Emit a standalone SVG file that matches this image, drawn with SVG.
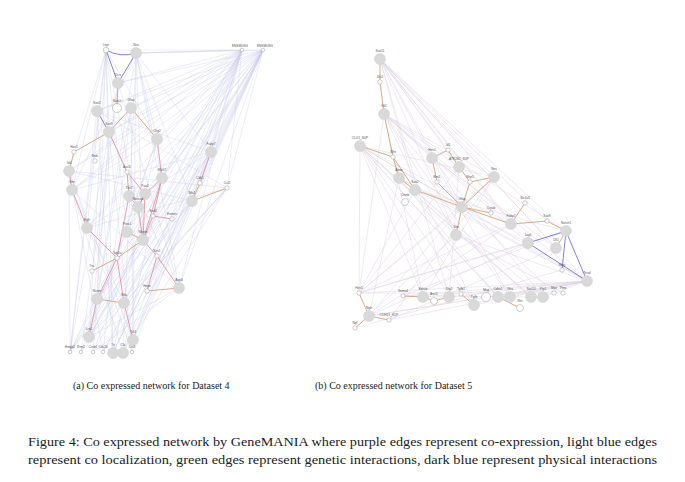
<svg xmlns="http://www.w3.org/2000/svg" width="685" height="482" viewBox="0 0 685 482">
<style>
.f{fill:none;stroke:#c9c9e8;stroke-width:0.6;opacity:0.6}
.fr{fill:none;stroke:#ddd3e2;stroke-width:0.6;opacity:0.8}
.r{fill:none;stroke:#d98c9e;stroke-width:0.8}
.o{fill:none;stroke:#d2a27f;stroke-width:0.9}
.b{fill:none;stroke:#7373d6;stroke-width:0.9}
.g{fill:#d9d9d9;stroke:#cfcfcf;stroke-width:0.5}
.w{fill:#fff;stroke:#9a9a9a;stroke-width:0.5}
.l{font-family:"Liberation Sans",Arial,sans-serif;font-size:3.2px;fill:#555;text-anchor:middle}
.c{font-family:"Liberation Serif","Times New Roman",serif;font-size:10px;fill:#222}
.cap{font-family:"Liberation Serif","Times New Roman",serif;font-size:12px;fill:#222}
</style>
<rect width="685" height="482" fill="#fff"/>
<g id="connectors">
<path class="f" d="M242 50L118 83M242 50L97 111M242 50L131 108M242 50L109 132M242 50L157 139M242 50L211 152M242 50L69 171M242 50L162 178M242 50L72 190M242 50L145 194M242 50L192 201M242 50L87 228M242 50L127 232M242 50L143 240M242 50L179 288M242 50L97 299M242 50L124 303M242 50L89 337M242 50L133 340M242 50L113 353M242 50L123 353M242 50L136 53M242 50L200 183M242 50L227 188"/>
<path class="f" d="M263 50L118 83M263 50L97 111M263 50L131 108M263 50L109 132M263 50L157 139M263 50L211 152M263 50L69 171M263 50L162 178M263 50L72 190M263 50L129 196M263 50L192 201M263 50L87 228M263 50L138 207M263 50L143 240M263 50L179 288M263 50L97 299M263 50L124 303M263 50L89 337M263 50L133 340M263 50L113 353M263 50L123 353M263 50L136 53M263 50L227 188M263 50L147 291M263 50L70 352M263 50L103 352"/>
<path class="f" d="M106 50L109 132M106 50L69 171M106 50L72 190M106 50L87 228M106 50L97 299M106 50L89 337M106 50L70 352M106 50L113 353M106 50L157 139M106 50L127 232M106 50L143 240M106 50L242 50M136 53L157 139M136 53L162 178M136 53L192 201M136 53L143 240M136 53L179 288M136 53L133 340M136 53L123 353M136 53L211 152M136 53L263 50M136 53L97 299M136 53L72 190"/>
<path class="f" d="M70 352L109 132M70 352L97 111M70 352L69 171M70 352L162 178M70 352L145 194M70 352L211 152M70 352L192 201M81 352L118 83M81 352L157 139M81 352L143 240M81 352L227 188M93 352L109 132M93 352L162 178M93 352L211 152M93 352L179 288M103 352L131 108M103 352L192 201M103 352L69 171M103 352L227 188M113 353L97 111M113 353L157 139M113 353L211 152M123 353L72 190M123 353L162 178M123 353L227 188M132 352L109 132M132 352L192 201M132 352L69 171M69 171L227 188M72 190L211 152M69 171L192 201M72 190L179 288M87 228L211 152M97 111L211 152M97 111L227 188M118 83L179 288M118 83L89 337M131 108L97 299M131 108L133 340M157 139L89 337M157 139L72 190M109 132L179 288M87 228L227 188M97 299L192 201M89 337L179 288M69 171L133 340M72 190L124 303M211 152L133 340M211 152L97 299M227 188L89 337M227 188L124 303M192 201L89 337"/>
<path class="b" d="M106 50Q121 58 136 53M106 50L118 83M136 53L118 83M97 111L109 132"/>
<path class="o" d="M118 83L117 108M131 108L109 132M131 108L157 139M109 132L74 152M74 152L69 171M200 183L192 201M227 188L192 201M143 240L127 232M143 240L117 258M117 258L92 271M147 291L179 288M97 299L124 303M138 207L145 194"/>
<path class="r" d="M109 132L127 172M157 139L162 178M211 152L200 183M127 172L129 196M127 172L145 194M145 194L138 207M129 196L138 207M162 178L153 216M153 216L172 219M138 207L143 240M145 194L143 240M162 178L143 240M87 228L117 258M117 258L97 299M117 258L124 303M143 240L157 256M157 256L179 288M157 256L147 291M124 303L133 340M97 299L89 337M69 171L72 190M72 190L87 228M117 258L129 196M153 216L143 240M162 178L145 194"/>
<path class="fr" d="M380 59L448 150M380 59L459 167M380 59L494 177M380 59L462 207M380 59L511 224M380 59L566 231M380 59L528 243M380 59L556 248M380 59L587 281M380 59L456 235M380 59L432 158M380 59L415 190M380 59L547 221M384 114L494 177M384 114L462 207M384 114L511 224M384 114L566 231M384 114L528 243M384 114L587 281M384 114L459 167M384 114L456 235M360 146L423 297M360 146L449 297M360 146L498 297M360 146L531 297M360 146L462 207M360 146L456 235M360 146L587 281M360 146L359 293"/>
<path class="fr" d="M587 281L359 293M587 281L403 296M587 281L423 297M587 281L449 297M587 281L474 305M587 281L498 297M587 281L531 297M587 281L543 297M587 281L369 316M587 281L456 235M587 281L415 190M587 281L399 178M587 281L389 320M359 293L415 190M359 293L462 207M359 293L511 224M359 293L566 231M359 293L528 243M359 293L494 177M359 293L459 167M359 293L384 114M498 297L399 178M531 297L415 190M543 297L432 158M449 297L459 167M423 297L494 177M474 305L360 146M510 297L384 114M369 316L511 224M369 316L528 243M403 296L566 231M369 316L462 207M369 316L399 178M389 320L556 248M389 320L494 177M423 297L384 114M449 297L380 59M531 297L360 146M543 297L399 178M563 293L456 235M554 293L462 207M510 297L432 158M498 297L360 146M474 305L384 114M355 328L456 235M355 328L562 270M369 316L587 281M403 296L543 297M359 293L563 293M415 190L566 231M399 178L528 243M432 158L556 248M360 146L494 177M360 146L511 224M384 114L432 158"/>
<path class="o" d="M380 59L380 82M380 82L384 114M384 114L393 157M360 146L393 157M393 157L399 178M393 157L415 190M399 178L415 190M415 190L462 207M432 158L448 150M448 150L459 167M432 158L437 182M437 182L462 207M459 167L470 182M470 182L494 177M470 182L462 207M494 177L462 207M462 207L491 213M462 207L511 224M462 207L456 235M511 224L525 203M511 224L547 221M547 221L566 231M566 231L556 248M359 293L369 316M369 316L355 328M369 316L389 320M403 296L423 297M423 297L434 301M434 301L449 297M461 294L474 305M498 297L520 308"/>
<path class="b" d="M528 243L566 231M528 243L587 281M566 231L562 270M568 236L587 281"/>
</g>
<g id="a1"><circle class="w" cx="106" cy="50" r="2.8"/><text class="l" x="106" y="46">Lepr</text></g>
<g id="a2"><circle class="g" cx="136" cy="53" r="5.5"/><text class="l" x="136" y="46">Nes</text></g>
<g id="a3"><circle class="w" cx="242" cy="50" r="1.8"/><text class="l" x="240" y="47">ENSMUSG</text></g>
<g id="a4"><circle class="w" cx="263" cy="50" r="1.8"/><text class="l" x="265" y="47">ENSMUSG</text></g>
<g id="a5"><circle class="g" cx="118" cy="83" r="5.5"/><text class="l" x="118" y="76">Dcx</text></g>
<g id="a6"><circle class="g" cx="97" cy="111" r="5.5"/><text class="l" x="97" y="104">Sox2</text></g>
<g id="a7"><circle class="w" cx="117" cy="108" r="4.5"/><text class="l" x="117" y="102">Notch</text></g>
<g id="a8"><circle class="g" cx="131" cy="108" r="5.5"/><text class="l" x="131" y="101">Gfap</text></g>
<g id="a9"><circle class="g" cx="109" cy="132" r="5.5"/><text class="l" x="109" y="125">Sox9</text></g>
<g id="a10"><circle class="g" cx="157" cy="139" r="5.5"/><text class="l" x="157" y="132">Olig2</text></g>
<g id="a11"><circle class="w" cx="74" cy="152" r="2.2"/><text class="l" x="74" y="148">Hes5</text></g>
<g id="a12"><circle class="g" cx="211" cy="152" r="5.5"/><text class="l" x="211" y="145">Fabp7</text></g>
<g id="a13"><circle class="g" cx="69" cy="171" r="5.5"/><text class="l" x="69" y="164">Id4</text></g>
<g id="a14"><circle class="w" cx="95" cy="161" r="2.2"/><text class="l" x="95" y="157">Nrdc</text></g>
<g id="a15"><circle class="w" cx="127" cy="172" r="2.2"/><text class="l" x="127" y="168">Ascl1</text></g>
<g id="a16"><circle class="g" cx="162" cy="178" r="5.5"/><text class="l" x="162" y="171">Mki67</text></g>
<g id="a17"><circle class="w" cx="200" cy="183" r="2.2"/><text class="l" x="200" y="179">Cdk1</text></g>
<g id="a18"><circle class="w" cx="227" cy="188" r="2.2"/><text class="l" x="227" y="184">Ccl2</text></g>
<g id="a19"><circle class="g" cx="72" cy="190" r="5.5"/><text class="l" x="72" y="183">Vim</text></g>
<g id="a20"><circle class="g" cx="129" cy="196" r="5.5"/><text class="l" x="129" y="189">Tbr2</text></g>
<g id="a21"><circle class="g" cx="145" cy="194" r="5.5"/><text class="l" x="145" y="187">Pax6</text></g>
<g id="a22"><circle class="g" cx="192" cy="201" r="5.5"/><text class="l" x="192" y="194">Msi1</text></g>
<g id="a23"><circle class="g" cx="138" cy="207" r="5.5"/><text class="l" x="138" y="200">Neurod</text></g>
<g id="a24"><circle class="w" cx="153" cy="216" r="2.2"/><text class="l" x="153" y="212">Sox4</text></g>
<g id="a25"><circle class="w" cx="172" cy="219" r="2.2"/><text class="l" x="172" y="215">Eomes</text></g>
<g id="a26"><circle class="g" cx="87" cy="228" r="5.5"/><text class="l" x="87" y="221">Egfr</text></g>
<g id="a27"><circle class="g" cx="127" cy="232" r="5.5"/><text class="l" x="127" y="225">Prox1</text></g>
<g id="a28"><circle class="g" cx="143" cy="240" r="5.5"/><text class="l" x="143" y="233">Nestin</text></g>
<g id="a29"><circle class="w" cx="117" cy="258" r="2.2"/><text class="l" x="117" y="254">Top2a</text></g>
<g id="a30"><circle class="w" cx="157" cy="256" r="2.2"/><text class="l" x="157" y="252">Sox1</text></g>
<g id="a31"><circle class="w" cx="92" cy="271" r="2.2"/><text class="l" x="92" y="267">Tnc</text></g>
<g id="a32"><circle class="g" cx="179" cy="288" r="5.5"/><text class="l" x="179" y="281">Aqp4</text></g>
<g id="a33"><circle class="w" cx="147" cy="291" r="2.2"/><text class="l" x="147" y="287">Hopx</text></g>
<g id="a34"><circle class="g" cx="97" cy="299" r="5.5"/><text class="l" x="97" y="292">Ncam</text></g>
<g id="a35"><circle class="g" cx="124" cy="303" r="5.5"/><text class="l" x="124" y="296">Nfia</text></g>
<g id="a36"><circle class="g" cx="89" cy="337" r="5.5"/><text class="l" x="89" y="330">Lrp1</text></g>
<g id="a37"><circle class="g" cx="133" cy="340" r="5.5"/><text class="l" x="133" y="333">Tcf4</text></g>
<g id="a38"><circle class="w" cx="70" cy="352" r="1.8"/><text class="l" x="70" y="348">Hmgb2</text></g>
<g id="a39"><circle class="w" cx="81" cy="352" r="1.8"/><text class="l" x="81" y="348">Rrm2</text></g>
<g id="a40"><circle class="w" cx="93" cy="352" r="1.8"/><text class="l" x="93" y="348">Ccnb1</text></g>
<g id="a41"><circle class="w" cx="103" cy="352" r="1.8"/><text class="l" x="103" y="348">Cdc20</text></g>
<g id="a42"><circle class="g" cx="113" cy="353" r="5.5"/><text class="l" x="113" y="346">Ttr</text></g>
<g id="a43"><circle class="g" cx="123" cy="353" r="5.5"/><text class="l" x="123" y="346">Clu</text></g>
<g id="a44"><circle class="w" cx="132" cy="352" r="1.8"/><text class="l" x="132" y="348">Cst3</text></g>
<g id="b1"><circle class="g" cx="380" cy="59" r="5.5"/><text class="l" x="380" y="52">Sox11</text></g>
<g id="b2"><circle class="w" cx="380" cy="82" r="2.2"/><text class="l" x="380" y="78">Dlx2</text></g>
<g id="b3"><circle class="g" cx="384" cy="114" r="5.5"/><text class="l" x="384" y="107">Gli1</text></g>
<g id="b4"><circle class="g" cx="360" cy="146" r="5.5"/><text class="l" x="360" y="139">CLU1_SUP</text></g>
<g id="b5"><circle class="w" cx="393" cy="157" r="2.2"/><text class="l" x="393" y="153">Wnt</text></g>
<g id="b6"><circle class="g" cx="399" cy="178" r="5.5"/><text class="l" x="399" y="171">Apoe</text></g>
<g id="b7"><circle class="g" cx="415" cy="190" r="5.5"/><text class="l" x="415" y="183">Sox2</text></g>
<g id="b8"><circle class="w" cx="405" cy="202" r="3.5"/><text class="l" x="405" y="196">Ctnnb</text></g>
<g id="b9"><circle class="g" cx="432" cy="158" r="5.5"/><text class="l" x="432" y="151">Hes1</text></g>
<g id="b10"><circle class="w" cx="448" cy="150" r="2.2"/><text class="l" x="448" y="146">Id1</text></g>
<g id="b11"><circle class="g" cx="459" cy="167" r="5.5"/><text class="l" x="459" y="160">ATP2B2_SUP</text></g>
<g id="b12"><circle class="w" cx="437" cy="182" r="2.2"/><text class="l" x="437" y="178">Bmi1</text></g>
<g id="b13"><circle class="w" cx="470" cy="182" r="2.2"/><text class="l" x="470" y="178">Sfrp1</text></g>
<g id="b14"><circle class="g" cx="494" cy="177" r="5.5"/><text class="l" x="494" y="170">Nes</text></g>
<g id="b15"><circle class="g" cx="462" cy="207" r="5.5"/><text class="l" x="462" y="200">Gfap</text></g>
<g id="b16"><circle class="w" cx="491" cy="213" r="2.2"/><text class="l" x="491" y="209">Cryab</text></g>
<g id="b17"><circle class="w" cx="525" cy="203" r="2.2"/><text class="l" x="525" y="199">Slc1a3</text></g>
<g id="b18"><circle class="g" cx="511" cy="224" r="5.5"/><text class="l" x="511" y="217">Fabp7</text></g>
<g id="b19"><circle class="w" cx="547" cy="221" r="2.2"/><text class="l" x="547" y="217">Sox9</text></g>
<g id="b20"><circle class="g" cx="566" cy="231" r="5.5"/><text class="l" x="566" y="224">Notch1</text></g>
<g id="b21"><circle class="g" cx="456" cy="235" r="5.5"/><text class="l" x="456" y="228">Vim</text></g>
<g id="b22"><circle class="g" cx="528" cy="243" r="5.5"/><text class="l" x="528" y="236">Jag1</text></g>
<g id="b23"><circle class="g" cx="556" cy="248" r="5.5"/><text class="l" x="556" y="241">Dll1</text></g>
<g id="b24"><circle class="w" cx="562" cy="270" r="2.2"/><text class="l" x="562" y="266">Rbpj</text></g>
<g id="b25"><circle class="g" cx="587" cy="281" r="5.5"/><text class="l" x="587" y="274">Tead</text></g>
<g id="b26"><circle class="w" cx="359" cy="293" r="2.2"/><text class="l" x="359" y="289">Hes5</text></g>
<g id="b27"><circle class="w" cx="403" cy="296" r="2.2"/><text class="l" x="403" y="292">Sema4</text></g>
<g id="b28"><circle class="g" cx="423" cy="297" r="5.5"/><text class="l" x="423" y="290">Ednrb</text></g>
<g id="b29"><circle class="w" cx="434" cy="301" r="3.5"/><text class="l" x="434" y="295">Ascl1</text></g>
<g id="b30"><circle class="g" cx="449" cy="297" r="5.5"/><text class="l" x="449" y="290">Dlg2</text></g>
<g id="b31"><circle class="w" cx="461" cy="294" r="2.2"/><text class="l" x="461" y="290">Tgfb1</text></g>
<g id="b32"><circle class="g" cx="474" cy="305" r="5.5"/><text class="l" x="474" y="298">Tgfb</text></g>
<g id="b33"><circle class="w" cx="486" cy="297" r="4.5"/><text class="l" x="486" y="291">Mag</text></g>
<g id="b34"><circle class="g" cx="498" cy="297" r="5.5"/><text class="l" x="498" y="290">Cdkn1</text></g>
<g id="b35"><circle class="g" cx="510" cy="297" r="5.5"/><text class="l" x="510" y="290">Gfra</text></g>
<g id="b36"><circle class="w" cx="520" cy="308" r="3.5"/><text class="l" x="520" y="302">Ret</text></g>
<g id="b37"><circle class="g" cx="531" cy="297" r="5.5"/><text class="l" x="531" y="290">Sox10</text></g>
<g id="b38"><circle class="g" cx="543" cy="297" r="5.5"/><text class="l" x="543" y="290">Plp1</text></g>
<g id="b39"><circle class="w" cx="554" cy="293" r="2.2"/><text class="l" x="554" y="289">Mpz</text></g>
<g id="b40"><circle class="w" cx="563" cy="293" r="2.2"/><text class="l" x="563" y="289">Pmp</text></g>
<g id="b41"><circle class="g" cx="369" cy="316" r="5.5"/><text class="l" x="369" y="309">Ngfr</text></g>
<g id="b42"><circle class="w" cx="389" cy="320" r="2.2"/><text class="l" x="389" y="316">CDH19_SUP</text></g>
<g id="b43"><circle class="w" cx="355" cy="328" r="2.2"/><text class="l" x="355" y="324">Ngf</text></g>
<text class="c" x="73" y="389">(a) Co expressed network for Dataset 4</text>
<text class="c" x="315" y="389">(b) Co expressed network for Dataset 5</text>
<text class="cap" x="28" y="446" textLength="629" lengthAdjust="spacingAndGlyphs">Figure 4: Co expressed network by GeneMANIA where purple edges represent co-expression, light blue edges</text>
<text class="cap" x="28" y="464" textLength="629" lengthAdjust="spacingAndGlyphs">represent co localization, green edges represent genetic interactions, dark blue represent physical interactions</text>
</svg>
